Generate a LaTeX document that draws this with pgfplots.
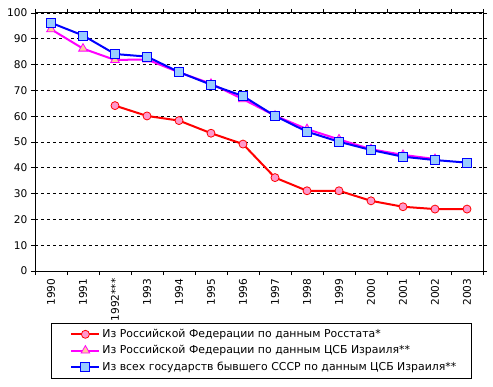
\documentclass[border=0pt]{standalone}
\usepackage{pgfplots}
\pgfplotsset{compat=1.18}
\usepackage{fontspec}
\setmainfont{DejaVu Sans}
\definecolor{cred}{HTML}{FF0000}
\definecolor{cmag}{HTML}{FF00FF}
\definecolor{cblue}{HTML}{0000FF}
\definecolor{fpink}{HTML}{FF99CC}
\definecolor{fpeach}{HTML}{FFCC99}
\definecolor{fblue}{HTML}{99CCFF}
\begin{document}
\begin{tikzpicture}
\useasboundingbox (0pt,0pt) rectangle (493pt,386pt);
\begin{axis}[
  at={(35pt,115pt)}, anchor=south west,
  scale only axis, width=448pt, height=258pt,
  xmin=-0.5, xmax=13.5, ymin=0, ymax=100,
  ytick={0,10,...,100},
  xtick={0,...,13},
  xticklabels={1990,1991,1992***,1993,1994,1995,1996,1997,1998,1999,2000,2001,2002,2003},
  x tick label style={rotate=90, anchor=east},
  major x tick style={draw=none},
  minor xtick={-0.5,0.5,...,13.5},
  tick align=outside,
  major tick length=4pt, minor tick length=4pt,
  tick style={black, line width=0.8pt},
  axis line style={black, line width=1pt},
  ymajorgrids,
  grid style={dashed, black, line width=0.8pt},
  font=\fontsize{10.6}{12}\selectfont,
  /pgf/number format/assume math mode=true,
  legend style={at={(0.0357,-0.2016)}, anchor=north west, draw=black, line width=0.8pt,
    font=\fontsize{10.9}{12}\selectfont, row sep=2.5pt, inner xsep=13pt, inner ysep=4pt},
  legend cell align=left,
  legend image code/.code={\path (0pt,0pt); \draw[mark repeat=2,mark phase=2] plot coordinates {(6pt,0pt) (20pt,0pt) (34pt,0pt)};},
]
\addplot[cred, line width=2pt, mark=*, mark size=4pt, mark options={fill=fpink, draw=cred, line width=0.8pt}]
  coordinates {(2,64.1) (3,60.1) (4,58.3) (5,53.4) (6,49.2) (7,36.2) (8,31.1) (9,31.1) (10,27.2) (11,24.9) (12,24.0) (13,24.0)};
\addlegendentry{Из Российской Федерации по данным Росстата*}
\addplot[cmag, line width=2pt, mark=triangle*, mark size=5pt, mark options={fill=fpeach, draw=cmag, line width=0.8pt}]
  coordinates {(0,93.7) (1,86.2) (2,81.8) (3,82.0) (4,77.0) (5,72.6) (6,66.6) (7,60.2) (8,55.0) (9,51.0) (10,47.2) (11,45.0) (12,43.4)};
\addlegendentry{Из Российской Федерации по данным ЦСБ Израиля**}
\addplot[cblue, line width=2pt, mark=square*, mark size=4.5pt, mark options={fill=fblue, draw=cblue, line width=0.8pt}]
  coordinates {(0,96.2) (1,91.3) (2,84.1) (3,83.1) (4,77.1) (5,72.2) (6,67.8) (7,60.1) (8,54.0) (9,50.1) (10,46.9) (11,44.3) (12,43.0) (13,42.0)};
\addlegendentry{Из всех государств бывшего СССР по данным ЦСБ Израиля**}
\end{axis}
\end{tikzpicture}
\end{document}
